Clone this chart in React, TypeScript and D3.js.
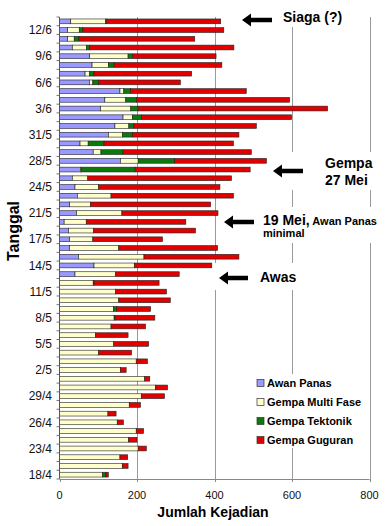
import React from "react";
import * as d3 from "d3";

// dates (rows from bottom to top); only every 3rd one gets a label
const dates = [
  "18/4", "20/4", "22/4", "23/4", "24/4", "25/4", "26/4", "27/4", "28/4", "29/4",
  "30/4", "1/5", "2/5", "3/5", "4/5", "5/5", "6/5", "7/5", "8/5", "9/5",
  "10/5", "11/5", "12/5", "13/5", "14/5", "15/5", "16/5", "17/5", "18/5", "19/5",
  "21/5", "22/5", "23/5", "24/5", "26/5", "27/5", "28/5", "29/5", "30/5", "31/5",
  "1/6", "2/6", "3/6", "4/6", "5/6", "6/6", "7/6", "8/6", "9/6", "10/6",
  "11/6", "12/6", "13/6",
];

const awanPanas = [
  0, 0, 0, 0, 0, 0, 0, 0, 0, 0,
  0, 0, 0, 0, 0, 0, 0, 0, 0, 0,
  0, 0, 0, 40, 89, 49, 26, 26, 23, 12,
  44, 26, 46, 40, 33, 54, 157, 87, 53, 126,
  143, 164, 106, 117, 156, 77, 66, 84, 78, 33,
  21, 21, 29,
];
const multiFase = [
  111, 162, 156, 203, 178, 198, 149, 125, 180, 211,
  248, 220, 157, 198, 101, 140, 93, 133, 141, 139,
  153, 145, 87, 105, 104, 169, 127, 60, 65, 57,
  117, 54, 87, 61, 40, 2, 46, 20, 21, 37,
  36, 24, 78, 54, 10, 9, 12, 42, 99, 37,
  17, 30, 90,
];
const tektonik = [
  9, 0, 0, 0, 0, 0, 0, 0, 0, 0,
  0, 0, 0, 0, 0, 0, 0, 0, 2, 8,
  0, 0, 2, 0, 0, 0, 0, 0, 0, 0,
  0, 0, 0, 0, 0, 139, 94, 57, 41, 25,
  13, 24, 19, 28, 17, 15, 11, 15, 11, 7,
  12, 9, 2,
];
const guguran = [
  6, 15, 20, 21, 22, 19, 16, 21, 29, 60,
  31, 13, 15, 29, 85, 90, 84, 89, 103, 88,
  133, 131, 168, 164, 200, 245, 255, 180, 263, 257,
  248, 310, 316, 313, 371, 297, 237, 331, 334, 275,
  316, 387, 489, 395, 299, 211, 252, 278, 216, 373,
  299, 364, 295,
];

const seriesNames = ["Awan Panas", "Gempa Multi Fase", "Gempa Tektonik", "Gempa Guguran"];
const seriesColors = ["#9999FF", "#FFFFCC", "#0B7A0B", "#E00000"];
const xTicks = [0, 200, 400, 600, 800];

const FONT = "'Liberation Sans', Arial, sans-serif";

// left-pointing block arrow
const arrow = (tipX: number, tailX: number, y: number) => {
  const hl = 9, hh = 6.5, st = 2.2;
  return `M${tipX},${y} L${tipX + hl},${y - hh} L${tipX + hl},${y - st} L${tailX},${y - st} L${tailX},${y + st} L${tipX + hl},${y + st} L${tipX + hl},${y + hh} Z`;
};

export default function App() {
  const left = 59.5, right = 369.5, top = 17, bottom = 479;

  const table = dates.map((d, i) => ({
    date: d,
    [seriesNames[0]]: awanPanas[i],
    [seriesNames[1]]: multiFase[i],
    [seriesNames[2]]: tektonik[i],
    [seriesNames[3]]: guguran[i],
  }));
  const stacked = d3.stack<any>().keys(seriesNames)(table);

  const x = d3.scaleLinear().domain([0, 800]).range([left, right]);
  const y = d3.scaleBand<string>()
    .domain([...dates].reverse())
    .range([top, bottom])
    .paddingInner(0.45)
    .paddingOuter(0.225);
  const step = y.step();

  return (
    <svg width={388} height={526} style={{ position: "absolute", left: 0, top: 0, background: "#fff" }} fontFamily={FONT}>
      {/* gridlines */}
      {xTicks.slice(1).map(t => (
        <line key={t} x1={Math.round(x(t)) + 0.5} x2={Math.round(x(t)) + 0.5} y1={top} y2={bottom} stroke="#9a9a9a" strokeWidth={1} />
      ))}

      {/* white boxes behind annotations */}
      <rect x={276} y={4} width={72} height={23} fill="#fff" />
      <rect x={270} y={152} width={108} height={38} fill="#fff" />
      <rect x={258} y={207} width={126} height={36} fill="#fff" />
      <rect x={213} y={263} width={88} height={27} fill="#fff" />
      <rect x={252} y={374} width={116} height={74} fill="#fff" />

      {/* bars */}
      {stacked.map((s, si) => (
        <g key={s.key}>
          {s.map((d, i) => {
            const w = x(d[1]) - x(d[0]);
            if (w <= 0) return null;
            return (
              <rect key={i} x={x(d[0])} y={y(dates[i])!} width={w} height={y.bandwidth()}
                fill={seriesColors[si]} stroke="#222" strokeWidth={0.6} />
            );
          })}
        </g>
      ))}

      {/* y axis */}
      <line x1={left} x2={left} y1={top} y2={bottom} stroke="#555" strokeWidth={1} />
      {d3.range(dates.length + 1).map(i => (
        <line key={i} x1={left - 3} x2={left} y1={top + i * step} y2={top + i * step} stroke="#555" strokeWidth={0.8} />
      ))}
      {dates.map((d, i) => i % 3 === 0 ? (
        <text key={d} x={52} y={y(d)! + y.bandwidth() / 2} dy="0.35em" textAnchor="end" fontSize={12} fill="#111">{d}</text>
      ) : null)}

      {/* x axis */}
      <line x1={left} x2={right} y1={bottom + 0.5} y2={bottom + 0.5} stroke="#888" strokeWidth={1} />
      {xTicks.map(t => (
        <g key={t}>
          <line x1={Math.round(x(t)) + 0.5} x2={Math.round(x(t)) + 0.5} y1={bottom} y2={bottom + 3} stroke="#888" />
          <text x={x(t)} y={495} dy="0.35em" textAnchor="middle" fontSize={11} fill="#111">{t}</text>
        </g>
      ))}

      {/* axis titles */}
      <text x={213} y={512} dy="0.35em" textAnchor="middle" fontSize={14} fontWeight="bold" fill="#000">Jumlah Kejadian</text>
      <text transform="translate(19,231) rotate(-90)" textAnchor="middle" fontSize={16} fontWeight="bold" fill="#000">Tanggal</text>

      {/* annotations */}
      <path d={arrow(242, 272, 20)} fill="#000" />
      <text x={283} y={17} dy="0.35em" fontSize={14} fontWeight="bold" fill="#000">Siaga (?)</text>

      <path d={arrow(273, 303, 171)} fill="#000" />
      <text x={325} y={163} dy="0.35em" fontSize={14} fontWeight="bold" fill="#000">Gempa</text>
      <text x={325} y={180} dy="0.35em" fontSize={14} fontWeight="bold" fill="#000">27 Mei</text>

      <path d={arrow(224, 254, 222)} fill="#000" />
      <text x={263} y={219} dy="0.35em" fontWeight="bold" fill="#000">
        <tspan fontSize={14}>19 Mei,</tspan>
        <tspan fontSize={11}> Awan Panas</tspan>
      </text>
      <text x={263} y={233} dy="0.35em" fontSize={11} fontWeight="bold" fill="#000">minimal</text>

      <path d={arrow(219, 248, 278)} fill="#000" />
      <text x={260} y={277} dy="0.35em" fontSize={14} fontWeight="bold" fill="#000">Awas</text>

      {/* legend */}
      {seriesNames.map((n, i) => (
        <g key={n} transform={`translate(257, ${383 + i * 19})`}>
          <rect x={0} y={-3.5} width={7} height={7} fill={seriesColors[i]} stroke="#333" strokeWidth={0.7} />
          <text x={10} y={0} dy="0.35em" fontSize={11} fontWeight="bold" fill="#000">{n}</text>
        </g>
      ))}
    </svg>
  );
}
